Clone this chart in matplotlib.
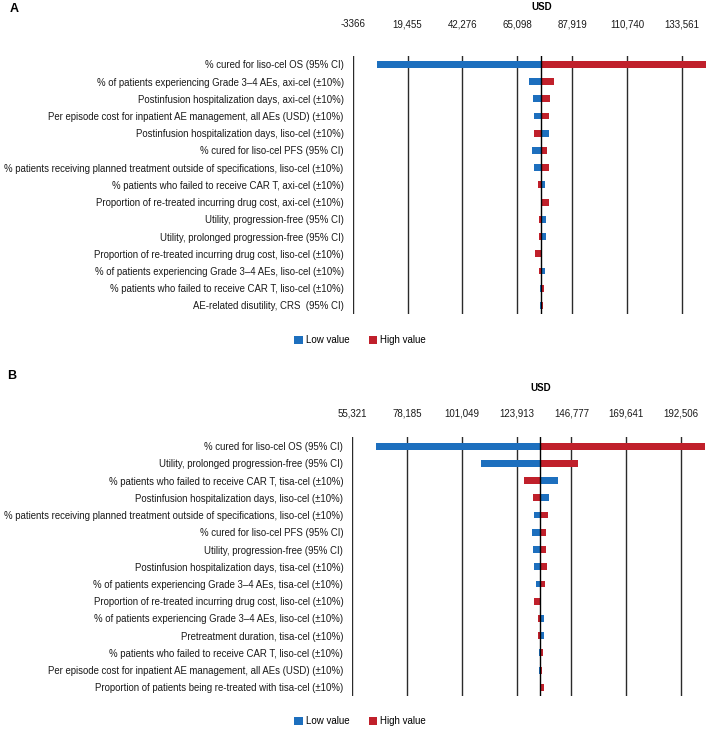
import matplotlib
matplotlib.use("Agg")
import matplotlib.pyplot as plt
from matplotlib.patches import Patch

plt.rcParams['font.family'] = ['Liberation Sans', 'DejaVu Sans']

# ---------------- Data: panel A ----------------
categories_A = [
    "% cured for liso-cel OS (95% CI)",
    "% of patients experiencing Grade 3\u20134 AEs, axi-cel (\u00b110%)",
    "Postinfusion hospitalization days, axi-cel (\u00b110%)",
    "Per episode cost for inpatient AE management, all AEs (USD) (\u00b110%)",
    "Postinfusion hospitalization days, liso-cel (\u00b110%)",
    "% cured for liso-cel PFS (95% CI)",
    "% patients receiving planned treatment outside of specifications, liso-cel (\u00b110%)",
    "% patients who failed to receive CAR T, axi-cel (\u00b110%)",
    "Proportion of re-treated incurring drug cost, axi-cel (\u00b110%)",
    "Utility, progression-free (95% CI)",
    "Utility, prolonged progression-free (95% CI)",
    "Proportion of re-treated incurring drug cost, liso-cel (\u00b110%)",
    "% of patients experiencing Grade 3\u20134 AEs, liso-cel (\u00b110%)",
    "% patients who failed to receive CAR T, liso-cel (\u00b110%)",
    "AE-related disutility, CRS  (95% CI)",
]
base_A = 75054
low_A = [6613, 70063, 71727, 71893, 78397, 71311, 72143, 76716, 75054, 77132, 76993, 75054, 76439, 74372, 74510]
high_A = [143536, 80210, 78674, 78397, 71893, 77548, 78258, 73680, 78258, 74095, 74233, 72420, 73957, 76024, 75748]
ticks_A = [-3366, 19455, 42276, 65098, 87919, 110740, 133561]
ticklabels_A = ["-3366", "19,455", "42,276", "65,098", "87,919", "110,740", "133,561"]

# ---------------- Data: panel B ----------------
categories_B = [
    "% cured for liso-cel OS (95% CI)",
    "Utility, prolonged progression-free (95% CI)",
    "% patients who failed to receive CAR T, tisa-cel (\u00b110%)",
    "Postinfusion hospitalization days, liso-cel (\u00b110%)",
    "% patients receiving planned treatment outside of specifications, liso-cel (\u00b110%)",
    "% cured for liso-cel PFS (95% CI)",
    "Utility, progression-free (95% CI)",
    "Postinfusion hospitalization days, tisa-cel (\u00b110%)",
    "% of patients experiencing Grade 3\u20134 AEs, tisa-cel (\u00b110%)",
    "Proportion of re-treated incurring drug cost, liso-cel (\u00b110%)",
    "% of patients experiencing Grade 3\u20134 AEs, liso-cel (\u00b110%)",
    "Pretreatment duration, tisa-cel (\u00b110%)",
    "% patients who failed to receive CAR T, liso-cel (\u00b110%)",
    "Per episode cost for inpatient AE management, all AEs (USD) (\u00b110%)",
    "Proportion of patients being re-treated with tisa-cel (\u00b110%)",
]
base_B = 133792
low_B = [65213, 109166, 141180, 137298, 131037, 130340, 130620, 131290, 132120, 133792, 135200, 135200, 133110, 133250, 133792]
high_B = [202663, 149653, 126863, 130620, 137006, 136180, 136180, 136730, 135750, 131290, 132830, 132830, 134900, 134630, 135340]
ticks_B = [55321, 78185, 101049, 123913, 146777, 169641, 192506]
ticklabels_B = ["55,321", "78,185", "101,049", "123,913", "146,777", "169,641", "192,506"]

BLUE = "#1d6fbe"
RED = "#c0202b"
W, H = 708, 730

fig = plt.figure(figsize=(W / 100, H / 100), dpi=100)


def panel(left_px, top_px, bottom_px, xmin, usd_per_px, cats, base, lows, highs,
          ticks, ticklabels, tick_pad, usd_y_px, letter, letter_xy, legend_y):
    ax = fig.add_axes([left_px / W, 1 - bottom_px / H, (W - left_px) / W,
                       (bottom_px - top_px) / H])
    n = len(cats)
    ys = list(range(n))
    for y, lo, hi in zip(ys, lows, highs):
        ax.barh(y, lo - base, left=base, height=0.4, color=BLUE, zorder=3)
        ax.barh(y, hi - base, left=base, height=0.4, color=RED, zorder=3)
    ax.set_ylim(n - 0.5, -0.5)
    ax.set_xlim(xmin, xmin + (W - left_px) * usd_per_px)
    ax.set_yticks(ys)
    ax.set_yticklabels(cats, fontsize=6.95, color="#1a1a1a")
    ax.tick_params(axis='y', length=0, pad=6.5)
    ax.xaxis.set_ticks_position('top')
    ax.set_xticks(ticks)
    ax.set_xticklabels(ticklabels, fontsize=7, color="#1a1a1a")
    for lab in ax.get_xticklabels():
        lab.set_verticalalignment('baseline')
    ax.tick_params(axis='x', length=0, pad=tick_pad)
    ax.grid(axis='x', color="#2a2a2a", lw=1.0, zorder=1)
    ax.axvline(base, color="black", lw=1.0, zorder=4)
    for s in ax.spines.values():
        s.set_visible(False)
    ax.set_facecolor("none")
    ax_h = bottom_px - top_px
    ax.text(base, 1 + (top_px - usd_y_px) / ax_h, "USD", fontsize=7, fontweight='bold',
            ha='center', va='center', transform=ax.get_xaxis_transform())
    fig.text(letter_xy[0] / W, 1 - letter_xy[1] / H, letter, fontsize=9, fontweight='bold',
             ha='center', va='center')
    handles = [Patch(facecolor=BLUE, label="Low value"), Patch(facecolor=RED, label="High value")]
    fig.legend(handles=handles, loc='center', bbox_to_anchor=(360 / W, 1 - legend_y / H),
               ncol=2, frameon=False, fontsize=7, handlelength=0.9, handleheight=0.9,
               handletextpad=0.3, columnspacing=2.0)
    return ax


panel(352.7, 55.7, 314.0, -3366, 415.8, categories_A, base_A, low_A, high_A,
      ticks_A, ticklabels_A, 20.5, 6.5, "A", (14, 9), 340)
panel(352.3, 437.5, 696.0, 55321, 417.4, categories_B, base_B, low_B, high_B,
      ticks_B, ticklabels_B, 14.8, 388, "B", (12, 376), 721.5)

fig.savefig("out.png", dpi=100)
